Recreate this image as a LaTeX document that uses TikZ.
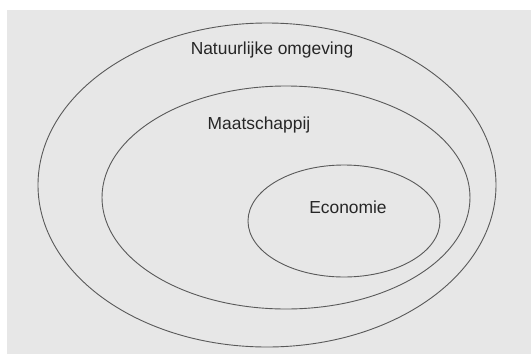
\documentclass[tikz,border=0pt]{standalone}
\usepackage{fontspec}
\setmainfont{Liberation Sans}
\begin{document}
\begin{tikzpicture}[x=1pt,y=-1pt,
  ring/.style={draw=black!65, line width=0.9pt},
  lbl/.style={font=\fontsize{17.4}{20}\selectfont, text=black!85, inner sep=0pt}]
\useasboundingbox (0,0) rectangle (531,354);
\fill[white] (0,0) rectangle (531,354);
\fill[black!9.5] (7,10) rectangle (531,354);
\draw[ring] (267,185) ellipse [x radius=229, y radius=162];
\draw[ring] (286,197.5) ellipse [x radius=184, y radius=111.5];
\draw[ring] (344,221) ellipse [x radius=96, y radius=56];
\node[lbl] (nat) at (272,50) {Natuurlijke omgeving};
\node[lbl] (maa) at (259,125) {Maatschappij};
\node[lbl] (eco) at (348,207.5) {Economie};
\end{tikzpicture}
\end{document}
